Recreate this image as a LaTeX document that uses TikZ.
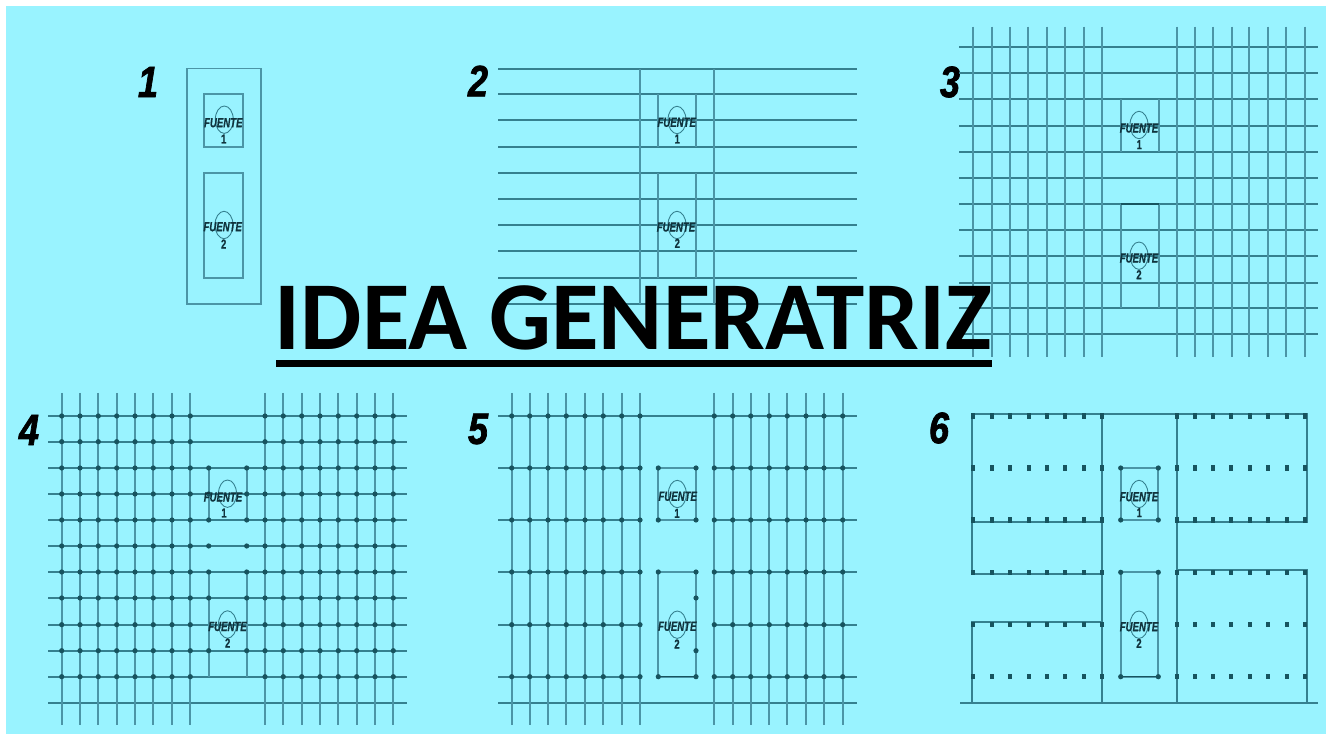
\documentclass[tikz,border=0pt]{standalone}
\usepackage{fontspec}
\usepackage{xcolor}
\usepackage{tikz}
\usetikzlibrary{calc}
\setmainfont{Liberation Sans}
\newfontfamily\titlefont{Carlito}
\newfontfamily\planofont[FakeStretch=0.72,FakeBold=0.6]{Liberation Sans}
\newfontfamily\numfont[FakeStretch=0.82,FakeBold=1.6]{Liberation Sans}
\definecolor{cielo}{HTML}{99F3FF}
\definecolor{linea}{HTML}{35808F}
\definecolor{lineav}{HTML}{4B95A6}
\definecolor{punto}{HTML}{17545F}
\definecolor{rotulo}{HTML}{10333D}
\tikzset{
  wire/.style={lineav, line width=0.95pt},
  wall/.style={linea, line width=1.05pt},
  fuentelabel/.style={rotulo, inner sep=0pt, font=\planofont\fontsize{7.6}{8}\selectfont\bfseries\itshape},
  fuentenum/.style={rotulo, inner sep=0pt, font=\planofont\fontsize{7.4}{8}\selectfont\bfseries},
  panelnum/.style={black, inner sep=0pt, font=\numfont\fontsize{25}{26}\selectfont\bfseries\itshape},
}
% one source: ellipse, word, number
\newcommand{\fuente}[5]{
  \draw[linea, line width=0.5pt] (#3) ellipse (9 and 13.7);
  \node[fuentelabel] (#1w) at (#4) {FUENTE};
  \node[fuentenum] (#1n) at (#5) {#2};
}
\newcommand{\pdot}[1]{\fill[punto] (#1) circle (2.6);}
\newcommand{\sqdot}[1]{\fill[punto] ($(#1)+(-2,-2.6)$) rectangle ($(#1)+(2,2.6)$);}
\begin{document}
\begin{tikzpicture}[x=0.02cm, y=-0.02cm]
  \useasboundingbox (0,0) rectangle (1330,736);
  \fill[white] (0,0) rectangle (1330,736);
  \fill[cielo] (6,6) rectangle (1326,734);

  % 1
  \node[panelnum] (num1) at (148,82) {1};
  \draw[wire] (186.7,68.5) rectangle (261.3,304);
  \draw[wire] (204,94.3) rectangle (242.7,147);
  \draw[wire] (204,172.7) rectangle (242.7,278);
  \fuente{a1}{1}{224.3,119.7}{223.3,122.7}{223.7,139}
  \fuente{a2}{2}{224,225}{222.7,226.7}{223.7,244}

  % 2
  \node[panelnum] (num2) at (478,81) {2};
  \foreach \y in {69,94.3,120.3,146.7,173,199,225.3,251.3,277.7,303.7}
    \draw[wall] (498,\y) -- (856.7,\y);
  \draw[wire] (640,69) -- (640,304);
  \draw[wire] (714,69) -- (714,304);
  \foreach \x in {658.3,696} {
    \draw[wire] (\x,94.3) -- (\x,146.7);
    \draw[wire] (\x,173) -- (\x,277.7);
  }
  \fuente{b1}{1}{677,120}{676.7,122.3}{677.3,139}
  \fuente{b2}{2}{677,225}{676,227}{677.3,243.3}

  % 3
  \node[panelnum] (num3) at (950,82) {3};
  \foreach \y in {47.3,73.3,99.3,125.7,151.7,178,204,230,256.3,282.7,308.3,334.3}
    \draw[wall] (959.3,\y) -- (1318.3,\y);
  \foreach \x in {973.3,991.7,1010.3,1028.3,1047,1065,1083.7,1102.3,1176.7,1195,1213.3,1231.7,1249.3,1268,1286,1305}
    \draw[wire] (\x,26.7) -- (\x,356.7);
  \foreach \x in {1120.7,1158.7} {
    \draw[wire] (\x,99.3) -- (\x,151.7);
    \draw[wire] (\x,204) -- (\x,308.3);
  }
  \draw[punto, line width=0.8pt] (1120.7,204) -- (1158.7,204);
  \fuente{c1}{1}{1139,125}{1139,128}{1139.3,144.7}
  \fuente{c2}{2}{1139,255.7}{1139,258}{1139,274.7}

  % 4
  \node[panelnum] (num4) at (29,430) {4};
  \foreach \y in {416,441.7,468,494,520,546,572,598,624.7,650.7,676.7,702.7}
    \draw[wall] (48,\y) -- (407,\y);
  \foreach \x in {61.7,80,98.3,116.7,135,153.3,172,190.3,265,283.3,301.7,320,338.3,356.7,375,393.3} {
    \draw[wire] (\x,393) -- (\x,725);
    \foreach \y in {416,441.7,468,494,520,546,572,598,624.7,650.7,676.7} {\pdot{\x,\y}}
  }
  \foreach \x in {208.7,246.7} {
    \draw[wire] (\x,468) -- (\x,520);
    \draw[wire] (\x,572) -- (\x,676.7);
    \foreach \y in {468,494,520,546,572,598,650.7} {\pdot{\x,\y}}
  }
  \fuente{d1}{1}{227.5,493.7}{223,497}{224,513}
  \fuente{d2}{2}{227.5,624.5}{227.5,626.5}{227.7,643}

  % 5
  \node[panelnum] (num5) at (478,429) {5};
  \foreach \y in {416,702.7}
    \draw[wall] (498,\y) -- (856.7,\y);
  \foreach \y in {468,520,572,624.7,676.7} {
    \draw[wall] (498,\y) -- (640,\y);
    \draw[wall] (714.3,\y) -- (856.7,\y);
  }
  \foreach \x in {511.7,529.7,548,566.3,585,603.3,621.7,640,714.3,732.7,750.7,769.3,787.3,806,824,842.7} {
    \draw[wire] (\x,393) -- (\x,725);
    \foreach \y in {416,468,520,572,624.7,676.7} {\pdot{\x,\y}}
  }
  \draw[wire] (658.3,468) rectangle (696,520);
  \draw[wire] (658.3,572) rectangle (696,676.7);
  \draw[punto, line width=0.9pt] (658.3,676.7) -- (696,676.7);
  \foreach \x in {658.3,696} {
    \foreach \y in {468,520,572,676.7} {\pdot{\x,\y}}
  }
  \pdot{696,598}
  \pdot{696,650.7}
  \fuente{e1}{1}{677.3,494}{677.7,496.3}{677,513.3}
  \fuente{e2}{2}{677.3,624.7}{677.3,626.3}{677,644}

  % 6
  \node[panelnum] (num6) at (939,428) {6};
  \draw[wall] (971.7,413.7) -- (1307,413.7) -- (1307,522.3) -- (1176.7,522.3);
  \draw[wall] (971.7,413.7) -- (971.7,574.3) -- (1102.3,574.3);
  \draw[wall] (971.7,522.3) -- (1102.3,522.3);
  \draw[wall] (971.7,702.7) -- (971.7,622.3) -- (1102.3,622.3);
  \draw[wall] (1176.7,570) -- (1307,570) -- (1307,702.7);
  \draw[wall] (1102.3,413.7) -- (1102.3,702.7);
  \draw[wall] (1176.7,413.7) -- (1176.7,702.7);
  \draw[wall] (960,702.7) -- (1318.3,702.7);
  \foreach \x in {973.3,992,1010.3,1028.7,1047,1065.3,1083.7,1102,1176.7,1195,1213.3,1231.3,1250,1268.3,1286.7,1305} {
    \foreach \y in {416,468,520,572.3,624.7,676.7} {\sqdot{\x,\y}}
  }
  \draw[wire] (1120.7,468) rectangle (1158.3,520);
  \draw[wire] (1120.7,572.3) rectangle (1158.3,676.7);
  \draw[punto, line width=0.9pt] (1120.7,676.7) -- (1158.3,676.7);
  \foreach \x in {1120.7,1158.3} {
    \foreach \y in {468,520,572.3,676.7} {\pdot{\x,\y}}
  }
  \fuente{f1}{1}{1139,494}{1139,496.7}{1139.3,512.7}
  \fuente{f2}{2}{1139,624.7}{1139,626.7}{1139,643.3}

  \node[anchor=base, inner sep=0pt, font=\titlefont\fontsize{55.4}{60}\selectfont\bfseries] (title) at (633.5,350) {IDEA GENERATRIZ};
  \fill[black] (275.5,360.5) rectangle (992,367);
\end{tikzpicture}
\end{document}
